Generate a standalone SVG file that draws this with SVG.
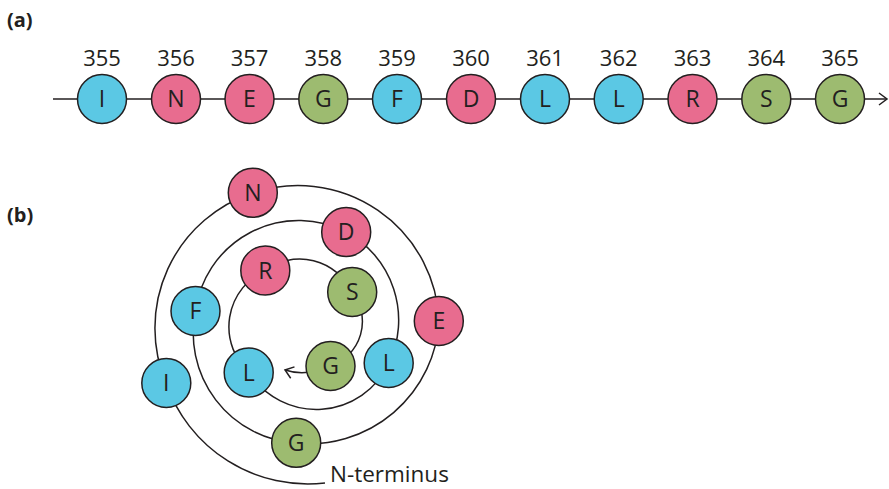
<svg xmlns="http://www.w3.org/2000/svg" width="889" height="489" viewBox="0 0 889 489">
<defs>
<style>
.bg{fill:#ffffff}
.ln{fill:none;stroke:#231f20;stroke-width:1.5}
.res circle{stroke:#231f20;stroke-width:1.5}
.blue circle{fill:#5BC8E4}
.pink circle{fill:#E86C8F}
.green circle{fill:#9DBB70}
text{font-family:"Open Sans","Noto Sans",sans-serif;fill:#231f20}
.lt{font-size:23px;text-anchor:middle}
.num{font-size:22px;text-anchor:middle}
.lbl{font-size:20px;font-weight:bold}
.nt{font-size:22.5px}
</style>
<marker id="chev" markerUnits="userSpaceOnUse" markerWidth="20" markerHeight="20" refX="10" refY="10" orient="auto" viewBox="0 0 20 20">
<path d="M2,4 L10,10 L2,16" fill="none" stroke="#231f20" stroke-width="1.5"/>
</marker>
</defs>
<rect class="bg" x="0" y="0" width="889" height="489"/>
<text class="lbl" x="7" y="27">(a)</text>
<text class="lbl" x="7" y="222">(b)</text>
<g id="connectors">
<path class="ln" d="M53,99 L887,99" marker-end="url(#chev)"/>
<path class="ln" d="M325,483 A150,150 0 0 1 166,383 A142,142 0 0 1 253,193 A141,141 0 0 1 439,321 A130,130 0 0 1 296,443 A110,110 0 0 1 195.5,311 A104,104 0 0 1 346,232 A100,100 0 0 1 389,363 A80,80 0 0 1 249,372.5 A62,62 0 0 1 265,270.5 A58,58 0 0 1 352,292 A47,47 0 0 1 330.5,366"/>
<path class="ln" d="M330.5,366 Q306,377 285,370" marker-end="url(#chev)"/>
</g>
<g id="a355" class="res blue"><text class="num" x="102" y="66">355</text><circle cx="102" cy="99" r="24.5"/><text class="lt" x="102" y="107">I</text></g>
<g id="a356" class="res pink"><text class="num" x="176" y="66">356</text><circle cx="176" cy="99" r="24.5"/><text class="lt" x="176" y="107">N</text></g>
<g id="a357" class="res pink"><text class="num" x="249.5" y="66">357</text><circle cx="249.5" cy="99" r="24.5"/><text class="lt" x="249.5" y="107">E</text></g>
<g id="a358" class="res green"><text class="num" x="323.3" y="66">358</text><circle cx="323.3" cy="99" r="24.5"/><text class="lt" x="323.3" y="107">G</text></g>
<g id="a359" class="res blue"><text class="num" x="397" y="66">359</text><circle cx="397" cy="99" r="24.5"/><text class="lt" x="397" y="107">F</text></g>
<g id="a360" class="res pink"><text class="num" x="471" y="66">360</text><circle cx="471" cy="99" r="24.5"/><text class="lt" x="471" y="107">D</text></g>
<g id="a361" class="res blue"><text class="num" x="545" y="66">361</text><circle cx="545" cy="99" r="24.5"/><text class="lt" x="545" y="107">L</text></g>
<g id="a362" class="res blue"><text class="num" x="618.7" y="66">362</text><circle cx="618.7" cy="99" r="24.5"/><text class="lt" x="618.7" y="107">L</text></g>
<g id="a363" class="res pink"><text class="num" x="692.5" y="66">363</text><circle cx="692.5" cy="99" r="24.5"/><text class="lt" x="692.5" y="107">R</text></g>
<g id="a364" class="res green"><text class="num" x="766.3" y="66">364</text><circle cx="766.3" cy="99" r="24.5"/><text class="lt" x="766.3" y="107">S</text></g>
<g id="a365" class="res green"><text class="num" x="840" y="66">365</text><circle cx="840" cy="99" r="24.5"/><text class="lt" x="840" y="107">G</text></g>
<g id="b355" class="res blue"><circle cx="166.3" cy="383" r="24.5"/><text class="lt" x="166.3" y="391">I</text></g>
<g id="b356" class="res pink"><circle cx="252.8" cy="192.8" r="24.5"/><text class="lt" x="252.8" y="200.8">N</text></g>
<g id="b357" class="res pink"><circle cx="438.8" cy="321" r="24.5"/><text class="lt" x="438.8" y="329">E</text></g>
<g id="b358" class="res green"><circle cx="296.2" cy="442.8" r="24.5"/><text class="lt" x="296.2" y="450.8">G</text></g>
<g id="b359" class="res blue"><circle cx="195.5" cy="311" r="24.5"/><text class="lt" x="195.5" y="319">F</text></g>
<g id="b360" class="res pink"><circle cx="346.2" cy="232" r="24.5"/><text class="lt" x="346.2" y="240">D</text></g>
<g id="b361" class="res blue"><circle cx="388.7" cy="363" r="24.5"/><text class="lt" x="388.7" y="371">L</text></g>
<g id="b362" class="res blue"><circle cx="248.7" cy="372.5" r="24.5"/><text class="lt" x="248.7" y="380.5">L</text></g>
<g id="b363" class="res pink"><circle cx="265.3" cy="270.5" r="24.5"/><text class="lt" x="265.3" y="278.5">R</text></g>
<g id="b364" class="res green"><circle cx="352.2" cy="292" r="24.5"/><text class="lt" x="352.2" y="300">S</text></g>
<g id="b365" class="res green"><circle cx="330.5" cy="366" r="24.5"/><text class="lt" x="330.5" y="374">G</text></g>
<text class="nt" x="330" y="482">N-terminus</text>
</svg>
